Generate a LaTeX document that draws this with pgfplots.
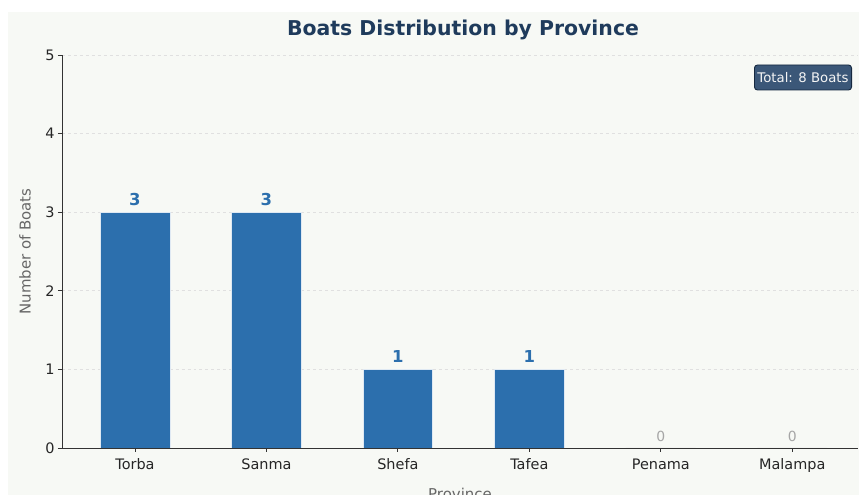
\documentclass[border=0pt]{standalone}
\usepackage{pgfplots}
\pgfplotsset{compat=1.18}
\usepackage{fontspec}
\setmainfont{DejaVu Sans}
\definecolor{bg}{HTML}{F7F9F5}
\definecolor{barblue}{HTML}{2C6FAD}
\definecolor{titleblue}{HTML}{1F3B5C}
\definecolor{boxblue}{HTML}{3B5778}
\begin{document}
\begin{tikzpicture}[x=1bp,y=1bp]
\useasboundingbox (0,0) rectangle (859,495);
\fill[white] (0,0) rectangle (859,495);
\fill[bg] (8,0) rectangle (859,483);
\begin{axis}[
  at={(62bp,47bp)}, anchor=south west,
  scale only axis, width=796bp, height=393bp,
  xmin=-0.555, xmax=5.5, ymin=0, ymax=5,
  xtick={0,...,5},
  xticklabels={Torba,Sanma,Shefa,Tafea,Penama,Malampa},
  ytick={0,...,5},
  axis x line*=bottom, axis y line*=left,
  axis line style={black!80, line width=0.9bp, -},
  ymajorgrids, grid style={dashed, color=black!12, line width=0.6bp},
  tick align=outside, major tick length=4bp,
  tick style={black!80, line width=0.8bp},
  tick label style={font=\fontsize{14.5}{16}\selectfont, color=black!85},
  xticklabel style={yshift=-3bp},
  /pgf/number format/assume math mode=true,
  xlabel={Province}, ylabel={Number of Boats},
  label style={font=\fontsize{15}{17}\selectfont, color=black!60},
  xlabel style={at={(axis description cs:0.5,-0.116)}, anchor=center},
  ylabel style={at={(axis description cs:-0.0465,0.5)}, anchor=center, rotate=0},
  ybar, bar width=0.53, bar shift=0pt,
]
\addplot[fill=barblue, draw=white!85!barblue, line width=0.6bp,
  nodes near coords,
  nodes near coords style={font=\bfseries\fontsize{16.5}{18}\selectfont, color=barblue, yshift=3bp, /pgf/number format/assume math mode=true},
] coordinates {(0,3) (1,3) (2,1) (3,1)};
\addplot[fill=black!15, draw=black!20, line width=0.8bp,
  nodes near coords,
  nodes near coords style={font=\fontsize{14}{16}\selectfont, color=black!35, yshift=3bp, /pgf/number format/assume math mode=true},
] coordinates {(4,0) (5,0)};
\end{axis}
\node[font=\bfseries\fontsize{20.5}{24}\selectfont, text=titleblue] at (463,465) {Boats Distribution by Province};
\node[fill=boxblue, draw=titleblue!70!black, line width=0.9bp, rounded corners=3bp,
  text=white!92!gray, font=\fontsize{13.3}{15}\selectfont, inner xsep=3bp, inner ysep=4bp,
  minimum height=25bp] at (803,417.5) {Total: 8 Boats};
\end{tikzpicture}
\end{document}
